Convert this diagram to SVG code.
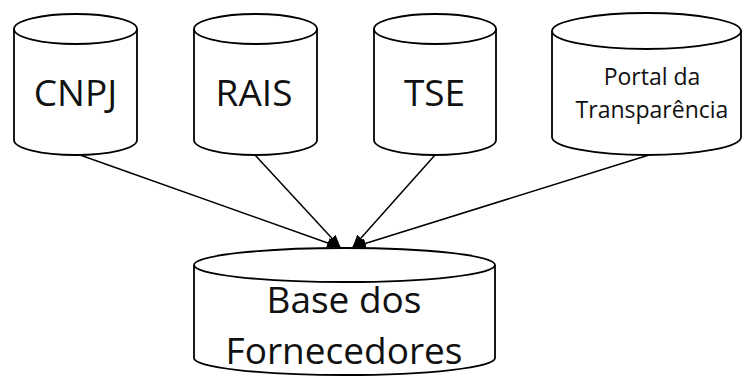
<svg xmlns="http://www.w3.org/2000/svg" width="744" height="376" viewBox="0 0 744 376">
<style>
.cyl{fill:#fff;stroke:#000;stroke-width:1.8}
.big{font-family:"Open Sans","Liberation Sans",sans-serif;font-size:37px;fill:#111;text-anchor:middle}
.small{font-family:"Open Sans","Liberation Sans",sans-serif;font-size:23px;fill:#111;text-anchor:middle}
.base{font-family:"Open Sans","Liberation Sans",sans-serif;font-size:37px;fill:#111;text-anchor:middle}
.conn{stroke:#000;stroke-width:1.5;fill:none;marker-end:url(#ah)}
</style>
<defs>
<marker id="ah" markerWidth="13" markerHeight="10" refX="12" refY="5" orient="auto" markerUnits="userSpaceOnUse">
<path d="M0,0 L13,5 L0,10 Z" fill="#000"/>
</marker>
</defs>
<rect width="744" height="376" fill="#fff"/>
<g id="connectors">
<line class="conn" x1="80" y1="155" x2="339" y2="247"/>
<line class="conn" x1="255" y1="155" x2="340" y2="247"/>
<line class="conn" x1="435" y1="155" x2="353" y2="247"/>
<line class="conn" x1="649" y1="155" x2="354" y2="247"/>
</g>
<g id="cnpj">
<path class="cyl" d="M14,29 L14,140 A61.5,15 0 0 0 137,140 L137,29"/>
<ellipse class="cyl" cx="75.5" cy="29" rx="61.5" ry="15"/>
<text class="big" x="75.5" y="106">CNPJ</text>
</g>
<g id="rais">
<path class="cyl" d="M194,29 L194,140 A61.5,15 0 0 0 317,140 L317,29"/>
<ellipse class="cyl" cx="255.5" cy="29" rx="61.5" ry="15"/>
<text class="big" x="254" y="106">RAIS</text>
</g>
<g id="tse">
<path class="cyl" d="M374,29 L374,140 A61,15 0 0 0 496,140 L496,29"/>
<ellipse class="cyl" cx="435" cy="29" rx="61" ry="15"/>
<text class="big" x="434.5" y="106">TSE</text>
</g>
<g id="portal">
<path class="cyl" d="M552,31 L552,137 A94.5,18 0 0 0 741,137 L741,31"/>
<ellipse class="cyl" cx="646.5" cy="31" rx="94.5" ry="18"/>
<text class="small" x="652" y="85">Portal da</text>
<text class="small" x="652" y="118">Transparência</text>
</g>
<g id="base">
<path class="cyl" d="M194,265 L194,358 A150.5,17 0 0 0 495,358 L495,265"/>
<ellipse class="cyl" cx="344.5" cy="265" rx="150.5" ry="17"/>
<text class="base" x="344" y="313">Base dos</text>
<text class="base" x="344" y="364">Fornecedores</text>
</g>
</svg>
